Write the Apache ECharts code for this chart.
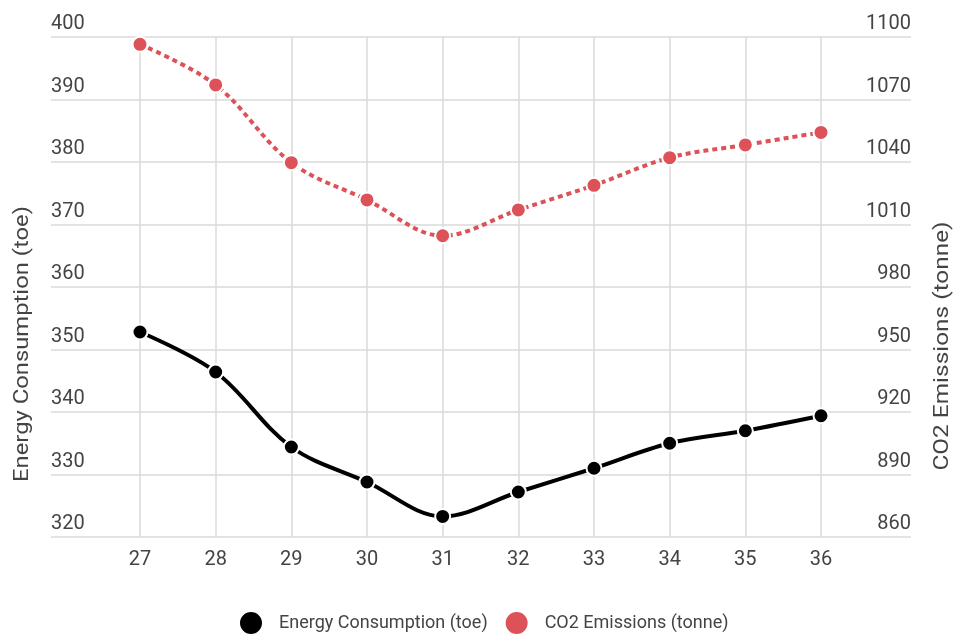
<!DOCTYPE html>
<html>
<head>
<meta charset="utf-8">
<script src="https://cdn.jsdelivr.net/npm/echarts@6/dist/echarts.min.js"></script>
<style>
  html, body { margin: 0; padding: 0; background: #fff; }
  #chart { width: 957px; height: 637px; }
</style>
</head>
<body>
<div id="chart"></div>
<script>
// Week numbers along the horizontal axis
const categories = ['27', '28', '29', '30', '31', '32', '33', '34', '35', '36'];
// Energy consumption per week (toe), left axis
const energyValues = [352.8, 346.4, 334.4, 328.8, 323.3, 327.2, 331.0, 335.0, 337.0, 339.4];
// CO2 emissions per week (tonne), right axis
const co2Values = [1096.5, 1077.0, 1039.7, 1021.8, 1004.6, 1017.0, 1028.8, 1042.1, 1048.2, 1054.2];
// Axis ranges and steps
const energyTicks = { min: 320, max: 400, step: 10 };
const co2Ticks = { min: 860, max: 1100, step: 30 };
const seriesNames = ['Energy Consumption (toe)', 'CO2 Emissions (tonne)'];

const FONT = 'Roboto, "Noto Sans", sans-serif';
const TEXT = '#444444';
const GRID_LINE = '#dadada';
const RED = '#dc5258';
const BLACK = '#000000';

const chart = echarts.init(document.getElementById('chart'), null, { renderer: 'canvas' });

const hiddenValueAxis = (grid, t, pos) => ({
  type: 'value', gridIndex: grid, position: pos,
  min: t.min, max: t.max, interval: t.step,
  show: false, splitLine: { show: false }
});

const plainNumber = v => String(v);

chart.setOption({
  animation: false,
  textStyle: { fontFamily: FONT },
  grid: [
    // outer grid: horizontal guide lines and tick labels
    { left: 51, right: 46, top: 37, bottom: 100, containLabel: false },
    // inner grid: the plotted weeks, inset from both ends
    { left: 140, right: 136, top: 37, bottom: 100, containLabel: false }
  ],
  xAxis: [
    { type: 'category', gridIndex: 0, data: categories, show: false },
    {
      type: 'category', gridIndex: 1, data: categories, boundaryGap: false,
      axisLine: { show: false }, axisTick: { show: false },
      axisLabel: { color: TEXT, fontSize: 20, margin: 13, fontFamily: FONT },
      splitLine: { show: true, lineStyle: { color: GRID_LINE, width: 1.5 } }
    }
  ],
  yAxis: [
    {
      type: 'value', gridIndex: 0, position: 'left',
      min: energyTicks.min, max: energyTicks.max, interval: energyTicks.step,
      axisLine: { show: false }, axisTick: { show: false },
      axisLabel: {
        inside: true, margin: 0, color: TEXT, fontSize: 20, fontFamily: FONT,
        verticalAlign: 'bottom', align: 'left', padding: [0, 0, 3, 0],
        formatter: plainNumber
      },
      splitLine: { show: true, lineStyle: { color: GRID_LINE, width: 1.5 } }
    },
    {
      type: 'value', gridIndex: 0, position: 'right',
      min: co2Ticks.min, max: co2Ticks.max, interval: co2Ticks.step,
      axisLine: { show: false }, axisTick: { show: false },
      axisLabel: {
        inside: true, margin: 0, color: TEXT, fontSize: 20, fontFamily: FONT,
        verticalAlign: 'bottom', align: 'right', padding: [0, 0, 3, 0],
        formatter: plainNumber
      },
      splitLine: { show: false }
    },
    hiddenValueAxis(1, energyTicks, 'left'),
    hiddenValueAxis(1, co2Ticks, 'right')
  ],
  legend: {
    bottom: 1, left: 238, padding: 0,
    icon: 'circle', itemWidth: 24, itemHeight: 24, itemGap: 16,
    textStyle: { color: TEXT, fontSize: 18, fontFamily: FONT, padding: [0, 0, 0, 11] },
    data: seriesNames
  },
  graphic: [
    {
      type: 'text', x: 23, y: 344, rotation: Math.PI / 2, scaleX: 1.19,
      style: { text: seriesNames[0], fill: TEXT, font: '20px ' + FONT, align: 'center', verticalAlign: 'middle' }
    },
    {
      type: 'text', x: 943, y: 346, rotation: Math.PI / 2, scaleX: 1.22,
      style: { text: seriesNames[1], fill: TEXT, font: '20px ' + FONT, align: 'center', verticalAlign: 'middle' }
    }
  ],
  series: [
    {
      name: seriesNames[0], type: 'line', xAxisIndex: 1, yAxisIndex: 2,
      data: energyValues, smooth: 0.35,
      symbol: 'circle', symbolSize: 15,
      lineStyle: { color: BLACK, width: 4 },
      itemStyle: { color: BLACK, borderColor: '#fff', borderWidth: 2 }
    },
    {
      name: seriesNames[1], type: 'line', xAxisIndex: 1, yAxisIndex: 3,
      data: co2Values, smooth: 0.35,
      symbol: 'circle', symbolSize: 15,
      lineStyle: { color: RED, width: 4, type: [5, 4] },
      itemStyle: { color: RED, borderColor: '#fff', borderWidth: 2 }
    }
  ]
});
</script>
</body>
</html>
